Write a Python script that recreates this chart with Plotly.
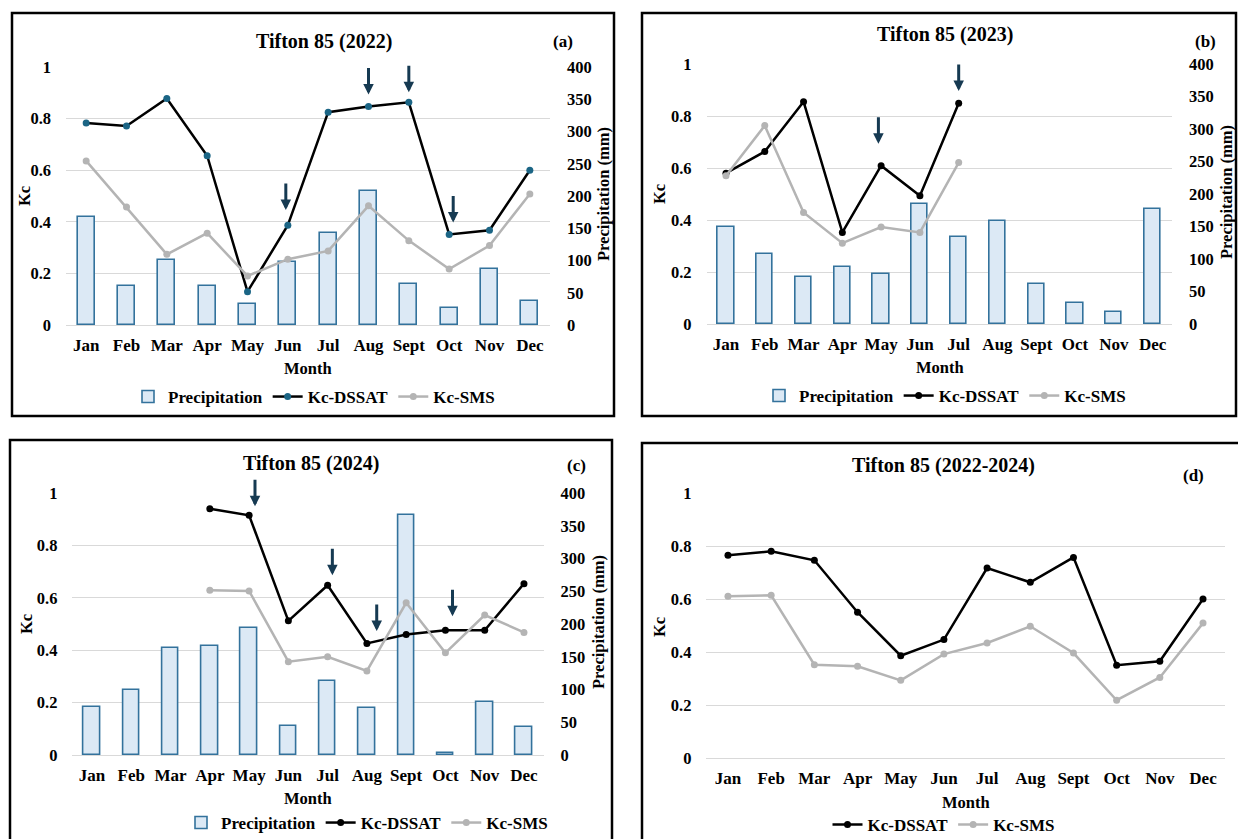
import plotly.graph_objects as go

W, H = 1238, 839

months = ["Jan", "Feb", "Mar", "Apr", "May", "Jun", "Jul", "Aug", "Sept", "Oct", "Nov", "Dec"]
kc_ticks = [0, 0.2, 0.4, 0.6, 0.8, 1]
precip_ticks = [0, 50, 100, 150, 200, 250, 300, 350, 400]

# 2022
precip_2022 = [167, 61, 101, 60, 33, 98, 142, 207, 64, 27, 87, 37]
kc_dssat_2022 = [0.783, 0.771, 0.878, 0.656, 0.129, 0.387, 0.825, 0.847, 0.863, 0.351, 0.367, 0.600]
kc_sms_2022 = [0.636, 0.457, 0.274, 0.356, 0.190, 0.255, 0.287, 0.462, 0.327, 0.217, 0.308, 0.508]

# 2023
precip_2023 = [149, 108, 73, 88, 77, 184, 134, 159, 61, 33, 18, 177]
kc_dssat_2023 = [0.580, 0.663, 0.855, 0.352, 0.609, 0.493, 0.849, None, None, None, None, None]
kc_sms_2023 = [0.570, 0.763, 0.429, 0.311, 0.373, 0.352, 0.621, None, None, None, None, None]

# 2024
precip_2024 = [74, 99, 164, 167, 194, 45, 113, 72, 367, 3, 81, 42]
kc_dssat_2024 = [None, None, None, 0.940, 0.915, 0.512, 0.648, 0.426, 0.460, 0.476, 0.476, 0.654]
kc_sms_2024 = [None, None, None, 0.629, 0.626, 0.356, 0.375, 0.321, 0.581, 0.390, 0.534, 0.468]

# 2022-2024 average
kc_dssat_avg = [0.765, 0.780, 0.746, 0.550, 0.386, 0.447, 0.717, 0.663, 0.757, 0.350, 0.365, 0.600]
kc_sms_avg = [0.610, 0.614, 0.352, 0.346, 0.293, 0.392, 0.434, 0.497, 0.396, 0.218, 0.304, 0.509]

# arrow markers: (month index, Kc at arrow tip)
arrows_2022 = [(4.95, 0.446), (7.0, 0.893), (8.0, 0.902), (9.1, 0.397)]
arrows_2023 = [(3.93, 0.693), (6.0, 0.896)]
arrows_2024 = [(4.15, 0.949), (6.12, 0.686), (7.25, 0.473), (9.18, 0.530)]

FONT = "Liberation Serif, Times New Roman, Times, serif"
BAR_FILL = "#dce9f5"
BAR_LINE = "#33729c"
DSSAT_LINE = "#000000"
SMS_COLOR = "#b4b4b4"
GRID = "#d9d9d9"
ARROW = "#163a52"

TITLE_SIZE = 20
TAG_SIZE = 17
TICK_SIZE = 16.5
MONTH_TICK_SIZE = 17
AXIS_TITLE_SIZE = 16.5
LEGEND_SIZE = 17


def px(x):
    return x / W


def py(y):
    return 1 - y / H


def font(size):
    return dict(family=FONT, size=size, color="black", weight="bold")


fig = go.Figure()

panels = [
    # (x axis, precip axis, kc axis, precip data, dssat, sms, legend, dssat marker colour)
    ("x", "y", "y2", precip_2022, kc_dssat_2022, kc_sms_2022, "legend", "#1b6585"),
    ("x2", "y3", "y4", precip_2023, kc_dssat_2023, kc_sms_2023, "legend2", "#000000"),
    ("x3", "y5", "y6", precip_2024, kc_dssat_2024, kc_sms_2024, "legend3", "#000000"),
    ("x4", None, "y7", None, kc_dssat_avg, kc_sms_avg, "legend4", "#000000"),
]

for xa, ya_p, ya_k, precip, dssat, sms, leg, mcol in panels:
    if precip is not None:
        fig.add_trace(go.Bar(
            x=months, y=precip, name="Precipitation", xaxis=xa, yaxis=ya_p,
            width=0.42, marker=dict(color=BAR_FILL, line=dict(color=BAR_LINE, width=1.6)),
            legend=leg,
        ))
    fig.add_trace(go.Scatter(
        x=months, y=dssat, name="Kc-DSSAT", mode="lines+markers", xaxis=xa, yaxis=ya_k,
        line=dict(color=DSSAT_LINE, width=2.5), marker=dict(color=mcol, size=7),
        connectgaps=False, legend=leg,
    ))
    fig.add_trace(go.Scatter(
        x=months, y=sms, name="Kc-SMS", mode="lines+markers", xaxis=xa, yaxis=ya_k,
        line=dict(color=SMS_COLOR, width=2.5), marker=dict(color=SMS_COLOR, size=7),
        connectgaps=False, legend=leg,
    ))

# plot areas in pixels: (left, right, top, bottom)
boxes = {
    "a": (66, 550, 67, 325),
    "b": (706.6, 1172, 64, 324),
    "c": (72.4, 543.6, 493, 755),
    "d": (706.4, 1224.6, 493, 758),
}


def xaxis_cfg(box, anchor):
    l, r, t, b = box
    return dict(
        domain=[px(l), px(r)], anchor=anchor, type="category",
        range=[-0.5, 11.5], showgrid=False, showline=False, zeroline=False,
        ticks="", tickfont=font(MONTH_TICK_SIZE), ticklabelstandoff=8,
    )


def kc_cfg(box, anchor, overlay=None):
    l, r, t, b = box
    cfg = dict(
        domain=[py(b), py(t)], anchor=anchor, range=[0, 1], side="left",
        tickvals=kc_ticks, ticktext=[f"{v:g}" for v in kc_ticks],
        showgrid=True, gridcolor=GRID, gridwidth=1.2,
        zeroline=True, zerolinecolor=GRID, zerolinewidth=1.2,
        showline=False, ticks="", tickfont=font(TICK_SIZE), ticklabelstandoff=14,
    )
    if overlay:
        cfg["overlaying"] = overlay
    return cfg


def precip_cfg(box, anchor):
    l, r, t, b = box
    return dict(
        domain=[py(b), py(t)], anchor=anchor, range=[0, 400], side="right",
        tickvals=precip_ticks, showgrid=False, zeroline=False, showline=False,
        ticks="", tickfont=font(TICK_SIZE), ticklabelstandoff=16,
    )


fig.update_layout(
    xaxis=xaxis_cfg(boxes["a"], "y"),
    yaxis=precip_cfg(boxes["a"], "x"),
    yaxis2=kc_cfg(boxes["a"], "x", "y"),
    xaxis2=xaxis_cfg(boxes["b"], "y3"),
    yaxis3=precip_cfg(boxes["b"], "x2"),
    yaxis4=kc_cfg(boxes["b"], "x2", "y3"),
    xaxis3=xaxis_cfg(boxes["c"], "y5"),
    yaxis5=precip_cfg(boxes["c"], "x3"),
    yaxis6=kc_cfg(boxes["c"], "x3", "y5"),
    xaxis4=xaxis_cfg(boxes["d"], "y7"),
    yaxis7=kc_cfg(boxes["d"], "x4"),
)

legend_base = dict(orientation="h", xanchor="center", yanchor="middle",
                   bgcolor="rgba(0,0,0,0)", font=font(LEGEND_SIZE), traceorder="normal",
                   itemwidth=30, tracegroupgap=0)
fig.update_layout(
    legend=dict(legend_base, x=px(314), y=py(397)),
    legend2=dict(legend_base, x=px(945), y=py(396)),
    legend3=dict(legend_base, x=px(367), y=py(823)),
    legend4=dict(legend_base, x=px(944), y=py(825)),
)

annotations = []


def text(x, y, s, size, angle=0):
    annotations.append(dict(
        x=px(x), y=py(y), xref="paper", yref="paper", text=s, showarrow=False,
        font=font(size), textangle=angle, xanchor="center", yanchor="middle",
    ))


# titles and panel tags
text(324, 42, "Tifton 85 (2022)", TITLE_SIZE)
text(563, 42, "(a)", TAG_SIZE)
text(945, 35, "Tifton 85 (2023)", TITLE_SIZE)
text(1205, 42, "(b)", TAG_SIZE)
text(311, 463, "Tifton 85 (2024)", TITLE_SIZE)
text(576, 465, "(c)", TAG_SIZE)
text(943, 465, "Tifton 85 (2022-2024)", TITLE_SIZE)
text(1193, 475, "(d)", TAG_SIZE)

# axis titles
text(24, 196, "Kc", AXIS_TITLE_SIZE, -90)
text(603, 194, "Precipitation (mm)", AXIS_TITLE_SIZE, -90)
text(308, 368, "Month", AXIS_TITLE_SIZE)
text(659, 194, "Kc", AXIS_TITLE_SIZE, -90)
text(1226, 192, "Precipitation (mm)", AXIS_TITLE_SIZE, -90)
text(940, 367, "Month", AXIS_TITLE_SIZE)
text(26, 624, "Kc", AXIS_TITLE_SIZE, -90)
text(598, 622, "Precipitation (mm)", AXIS_TITLE_SIZE, -90)
text(308, 798, "Month", AXIS_TITLE_SIZE)
text(659, 627, "Kc", AXIS_TITLE_SIZE, -90)
text(966, 802, "Month", AXIS_TITLE_SIZE)

# downward arrows above selected months
for xa, ya, arrows in [("x", "y2", arrows_2022), ("x2", "y4", arrows_2023), ("x3", "y6", arrows_2024)]:
    for xi, yk in arrows:
        annotations.append(dict(
            x=xi, y=yk, xref=xa, yref=ya, text="", showarrow=True,
            ax=0, ay=-28, arrowhead=2, arrowsize=0.7, arrowwidth=3, arrowcolor=ARROW,
        ))

fig.update_layout(annotations=annotations)

# panel frames
frames = [(12, 614, 13, 416), (642, 1236, 13, 416), (10, 612, 440, 850), (642, 1250, 443, 850)]
fig.update_layout(shapes=[
    dict(type="rect", xref="paper", yref="paper", x0=px(l), x1=px(r), y0=py(b), y1=py(t),
         line=dict(color="black", width=2.5), fillcolor="rgba(0,0,0,0)", layer="above")
    for l, r, t, b in frames
])

fig.update_layout(
    width=W, height=H, margin=dict(l=0, r=0, t=0, b=0, autoexpand=False),
    paper_bgcolor="white", plot_bgcolor="rgba(0,0,0,0)",
    barmode="overlay", bargap=0,
)

fig.write_html("out.html")
